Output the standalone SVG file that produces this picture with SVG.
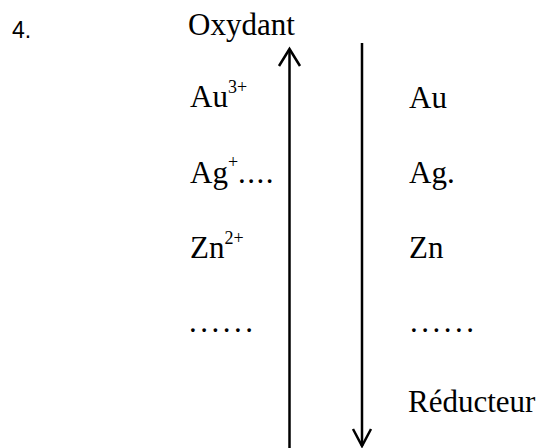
<svg xmlns="http://www.w3.org/2000/svg" width="546" height="448" viewBox="0 0 546 448">
<style>
text{font-family:'Liberation Serif','Times New Roman',Times,serif;font-size:31px;fill:#000}
.s{font-size:18px}
.ln{stroke:#000;stroke-width:2.5;fill:none}
</style>
<rect width="546" height="448" fill="#fff"/>
<g font-family="Liberation Serif, Times New Roman, serif">
<g id="number"><text x="12" y="38" style="font-family:'Liberation Sans',Arial,sans-serif;font-size:23px">4.</text></g>
<g id="oxydant"><text x="188" y="35">Oxydant</text></g>
<g id="reducteur"><text x="408" y="412">Réducteur</text></g>
<g id="left-column">
<text x="190" y="107">Au<tspan class="s" dy="-14">3+</tspan></text>
<text x="190" y="183">Ag<tspan class="s" dy="-15">+</tspan><tspan dy="15" letter-spacing="1.5">....</tspan></text>
<text x="190" y="258">Zn<tspan class="s" dy="-14">2+</tspan></text>
<text x="189" y="332" letter-spacing="3.5">......</text>
</g>
<g id="right-column">
<text x="409" y="108">Au</text>
<text x="409" y="183">Ag.</text>
<text x="409" y="258">Zn</text>
<text x="410" y="332" letter-spacing="3.5">......</text>
</g>
</g>
<g id="connectors">
<path class="ln" d="M289.5 49 V448"/>
<path class="ln" d="M279 66 L289.5 49 L300 66"/>
<path class="ln" d="M362 43 V446"/>
<path class="ln" d="M353 429 L362 446 L371 429"/>
</g>
</svg>
